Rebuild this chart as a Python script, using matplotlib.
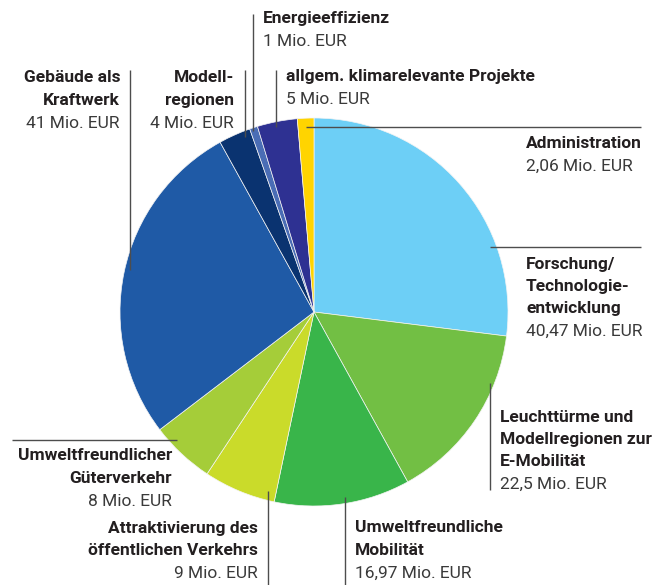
import matplotlib.pyplot as plt

plt.rcParams['font.family'] = ['Roboto', 'DejaVu Sans']

# daten (Mio. EUR), im uhrzeigersinn ab 12 uhr
kategorien = [
    "Forschung/\nTechnologie-\nentwicklung",
    "Leuchttürme und\nModellregionen zur\nE-Mobilität",
    "Umweltfreundliche\nMobilität",
    "Attraktivierung des\nöffentlichen Verkehrs",
    "Umweltfreundlicher\nGüterverkehr",
    "Gebäude als\nKraftwerk",
    "Modell-\nregionen",
    "Energieeffizienz",
    "allgem. klimarelevante Projekte",
    "Administration",
]
werte = [40.47, 22.5, 16.97, 9, 8, 41, 4, 1, 5, 2.06]
farben = ["#6DCFF6", "#72BF44", "#39B54A", "#CADB2A", "#A5CD39",
          "#1F5AA6", "#0A3370", "#4A6DB5", "#2E3192", "#FFD400"]

H = 585

def Y(y):
    # bildkoordinate -> achsenkoordinate
    return H - y

# text: (x, y der ersten zeile, ausrichtung); linie: liste von punkten
text_pos = [
    (526, 264, "left"),
    (500, 417, "left"),
    (355, 528, "left"),
    (258, 528, "right"),
    (172, 456, "right"),
    (120, 78, "right"),
    (234, 78, "right"),
    (263, 19, "left"),
    (286, 77, "left"),
    (526, 144, "left"),
]
linien = [
    [(490, 247), (641, 247)],
    [(490, 383), (490, 490)],
    [(345, 497), (345, 585)],
    [(268, 491), (268, 585)],
    [(12, 440), (177, 440)],
    [(130, 70), (130, 270)],
    [(245, 70), (245, 137)],
    [(253, 14), (253, 131)],
    [(276, 70), (276, 127)],
    [(306, 127), (641, 127)],
]

fig = plt.figure(figsize=(6.62, 5.85), dpi=100)
ax = fig.add_axes([0, 0, 1, 1])

ax.pie(werte, colors=farben, startangle=90, counterclock=False,
       center=(314, Y(312)), radius=194,
       wedgeprops=dict(linewidth=0.5, edgecolor="#f4f4f4"))

for pts in linien:
    xs = [p[0] for p in pts]
    ys = [Y(p[1]) for p in pts]
    ax.plot(xs, ys, color="#4d4d4d", lw=1.0, solid_capstyle="butt")

for name, wert, (x, y0, ha) in zip(kategorien, werte, text_pos):
    zeilen = name.split("\n")
    betrag = f"{wert:g}".replace(".", ",") + " Mio. EUR"
    for i, z in enumerate(zeilen + [betrag]):
        fett = i < len(zeilen)
        ax.text(x, Y(y0 + i * 22.5), z, ha=ha, va="center",
                fontsize=12.5, fontweight="bold" if fett else "normal",
                color="#231F20" if fett else "#3a3a3a")

ax.set_xlim(0, 662)
ax.set_ylim(0, H)
ax.set_aspect("auto")
ax.axis("off")

plt.savefig("out.png", dpi=100)
